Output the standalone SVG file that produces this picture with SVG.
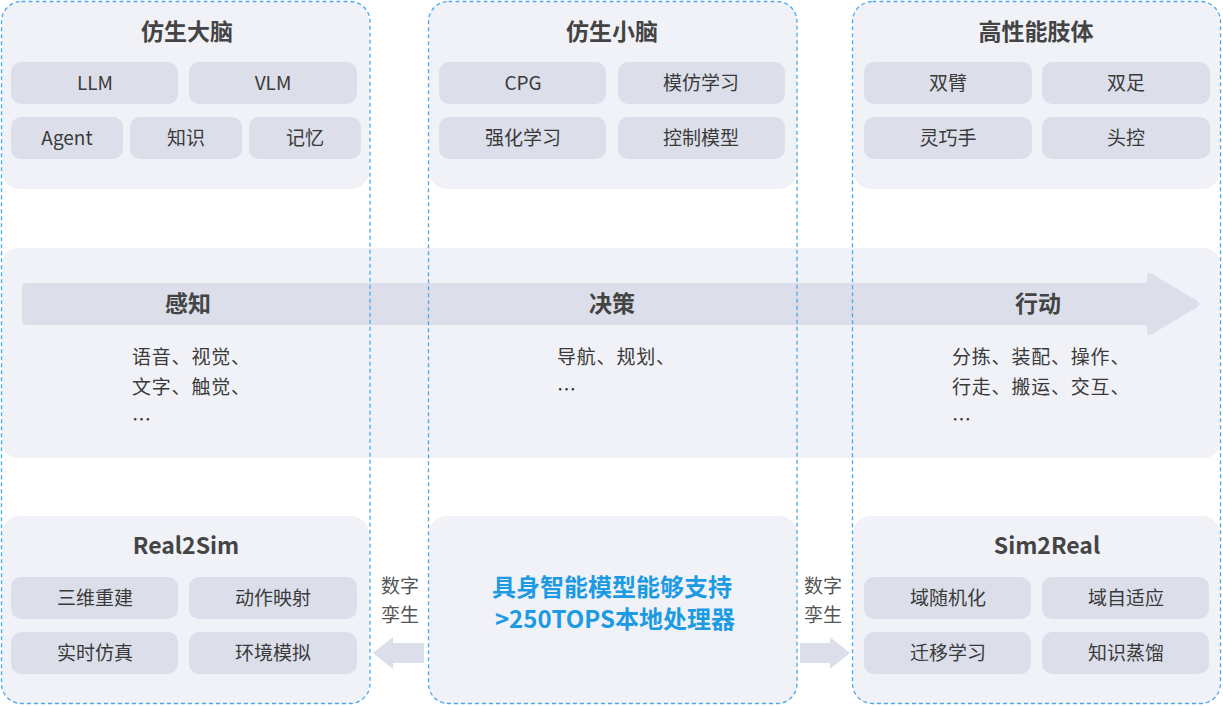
<svg xmlns="http://www.w3.org/2000/svg" width="1223" height="706" viewBox="0 0 1223 706">
<defs>
<style>
.panel{fill:#f1f2f8}
.chip{fill:#dcdfea}
.col{fill:none;stroke:#4aa8f0;stroke-width:1.3;stroke-dasharray:4 3}
text{font-family:"Noto Sans CJK SC","Noto Sans",sans-serif;dominant-baseline:central;text-anchor:middle}
.title{font-size:23px;font-weight:700;fill:#444}
.ct{font-size:19px;fill:#3a3a3a}
.list{font-size:19px;letter-spacing:0.8px;fill:#3a3a3a;text-anchor:start}
.twin{font-size:19px;fill:#555}
.blue{font-size:24px;font-weight:700;fill:#1c9be3}
.arr{fill:#dcdfea}
</style>
</defs>
<rect width="1223" height="706" fill="#fff"/>

<g id="band">
<rect class="panel" x="2" y="248" width="1218" height="210" rx="16"/>
</g>

<g id="brain">
<rect class="panel" x="2" y="2" width="367" height="187" rx="18"/>
<text class="title" x="187" y="30">仿生大脑</text>
<rect class="chip" x="11" y="62" width="167" height="42" rx="10"/><text class="ct" x="95" y="81">LLM</text>
<rect class="chip" x="189" y="62" width="168" height="42" rx="10"/><text class="ct" x="273" y="81">VLM</text>
<rect class="chip" x="11" y="117" width="112" height="42" rx="10"/><text class="ct" x="67" y="136">Agent</text>
<rect class="chip" x="130" y="117" width="112" height="42" rx="10"/><text class="ct" x="186" y="136">知识</text>
<rect class="chip" x="249" y="117" width="112" height="42" rx="10"/><text class="ct" x="305" y="136">记忆</text>
</g>

<g id="cerebellum">
<rect class="panel" x="429" y="2" width="368" height="187" rx="18"/>
<text class="title" x="612" y="30">仿生小脑</text>
<rect class="chip" x="439" y="62" width="167" height="42" rx="10"/><text class="ct" x="523" y="81">CPG</text>
<rect class="chip" x="618" y="62" width="167" height="42" rx="10"/><text class="ct" x="701" y="81">模仿学习</text>
<rect class="chip" x="439" y="117" width="167" height="42" rx="10"/><text class="ct" x="523" y="136">强化学习</text>
<rect class="chip" x="618" y="117" width="167" height="42" rx="10"/><text class="ct" x="701" y="136">控制模型</text>
</g>

<g id="body">
<rect class="panel" x="853" y="2" width="367" height="187" rx="18"/>
<text class="title" x="1036" y="30">高性能肢体</text>
<rect class="chip" x="864" y="62" width="168" height="42" rx="10"/><text class="ct" x="948" y="81">双臂</text>
<rect class="chip" x="1042" y="62" width="168" height="42" rx="10"/><text class="ct" x="1126" y="81">双足</text>
<rect class="chip" x="864" y="117" width="168" height="42" rx="10"/><text class="ct" x="948" y="136">灵巧手</text>
<rect class="chip" x="1042" y="117" width="168" height="42" rx="10"/><text class="ct" x="1126" y="136">头控</text>
</g>

<g id="flow">
<path class="arr" d="M26 283 H1147 V277 Q1147 271 1152 274 L1196 300 Q1202 304 1196 308 L1152 334 Q1147 337 1147 331 V325 H26 Q22 325 22 321 V287 Q22 283 26 283 Z"/>
<text class="title" x="188" y="302">感知</text>
<text class="title" x="612" y="302">决策</text>
<text class="title" x="1038" y="302">行动</text>
<text class="list" x="132" y="355">语音、视觉、</text>
<text class="list" x="132" y="385">文字、触觉、</text>
<text class="list" x="132" y="418">…</text>
<text class="list" x="557" y="355">导航、规划、</text>
<text class="list" x="557" y="388">…</text>
<text class="list" x="952" y="355">分拣、装配、操作、</text>
<text class="list" x="952" y="385">行走、搬运、交互、</text>
<text class="list" x="952" y="418">…</text>
</g>

<g id="real2sim">
<rect class="panel" x="2" y="516" width="367" height="188" rx="18"/>
<text class="title" x="186" y="544">Real2Sim</text>
<rect class="chip" x="11" y="577" width="167" height="42" rx="10"/><text class="ct" x="95" y="596">三维重建</text>
<rect class="chip" x="189" y="577" width="168" height="42" rx="10"/><text class="ct" x="273" y="596">动作映射</text>
<rect class="chip" x="11" y="632" width="167" height="42" rx="10"/><text class="ct" x="95" y="651">实时仿真</text>
<rect class="chip" x="189" y="632" width="168" height="42" rx="10"/><text class="ct" x="273" y="651">环境模拟</text>
</g>

<g id="processor">
<rect class="panel" x="429" y="516" width="368" height="188" rx="18"/>
<text class="blue" x="612" y="585">具身智能模型能够支持</text>
<text class="blue" x="615" y="617">&gt;250TOPS本地处理器</text>
</g>

<g id="sim2real">
<rect class="panel" x="853" y="516" width="367" height="188" rx="18"/>
<text class="title" x="1047" y="544">Sim2Real</text>
<rect class="chip" x="864" y="577" width="167" height="42" rx="10"/><text class="ct" x="948" y="596">域随机化</text>
<rect class="chip" x="1042" y="577" width="167" height="42" rx="10"/><text class="ct" x="1126" y="596">域自适应</text>
<rect class="chip" x="864" y="632" width="167" height="42" rx="10"/><text class="ct" x="948" y="651">迁移学习</text>
<rect class="chip" x="1042" y="632" width="167" height="42" rx="10"/><text class="ct" x="1126" y="651">知识蒸馏</text>
</g>

<g id="connectors">
<text class="twin" x="400" y="584">数字</text>
<text class="twin" x="400" y="613">孪生</text>
<path class="arr" d="M424 643 V663 H393 V669 L373 653 L393 637 V643 Z"/>
<text class="twin" x="823" y="584">数字</text>
<text class="twin" x="823" y="613">孪生</text>
<path class="arr" d="M800 643 V663 H830 V669 L850 653 L830 637 V643 Z"/>
</g>

<g id="columns">
<rect class="col" x="1.5" y="1.5" width="368.5" height="702" rx="20"/>
<rect class="col" x="428.5" y="1.5" width="368.5" height="702" rx="20"/>
<rect class="col" x="852.5" y="1.5" width="368" height="702" rx="20"/>
</g>
</svg>
